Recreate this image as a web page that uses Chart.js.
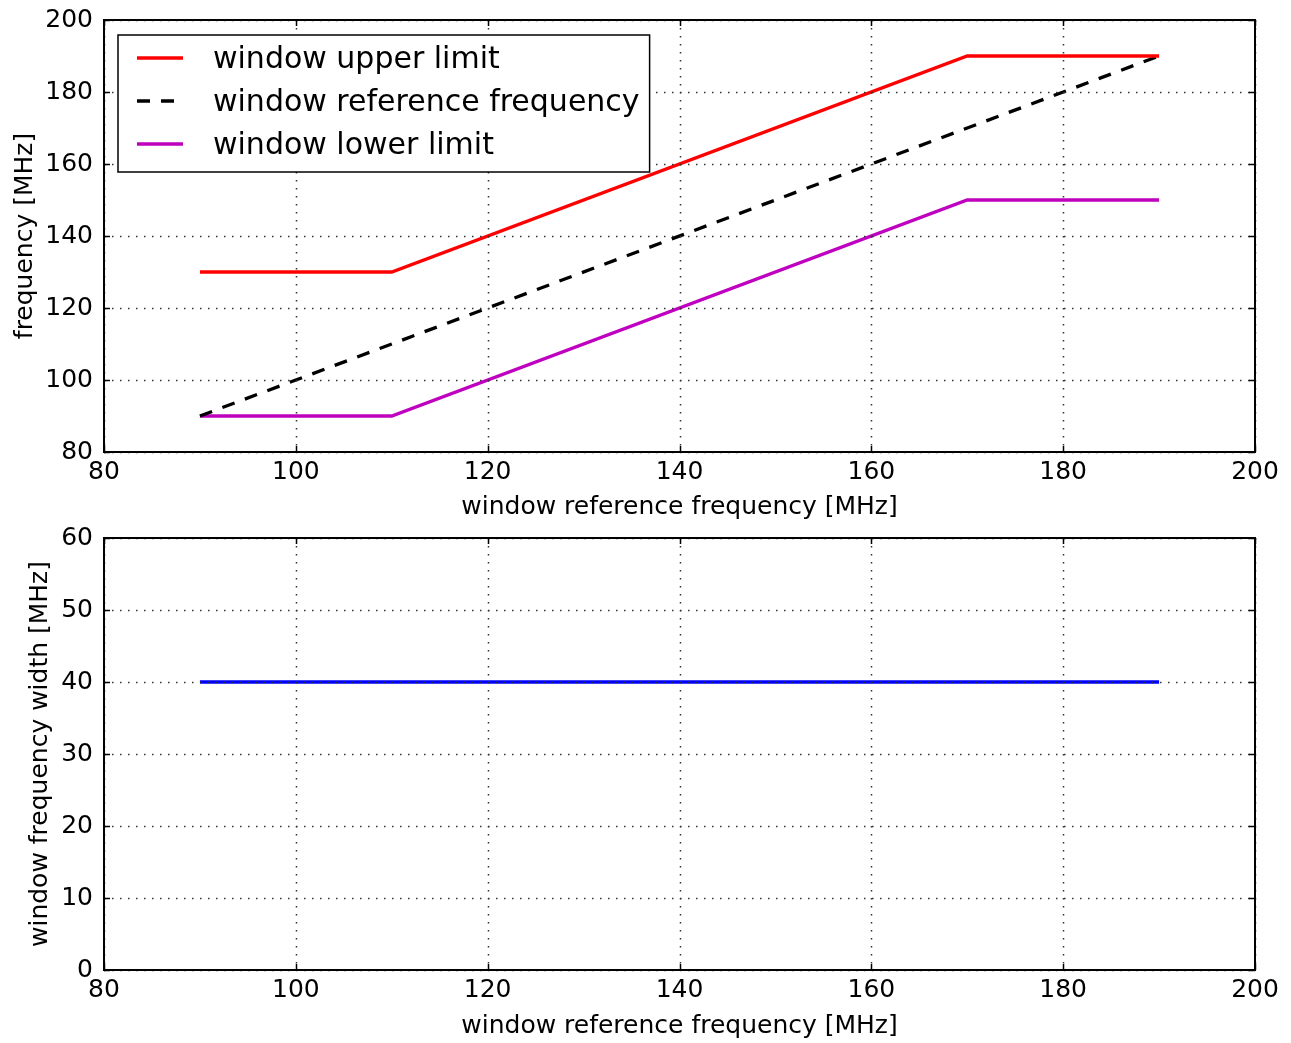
<!DOCTYPE html>
<html lang="en">
<head>
    <meta charset="UTF-8">
    <title>Window frequencies</title>
    <style>
        body {
            margin: 0;
            padding: 0;
            background: #ffffff;
        }

        .panel {
            position: absolute;
            left: 0;
        }

        #top { top: 0; }
        #bottom { top: 520px; }
    </style>
</head>
<body>
    <div class="panel" id="top"><canvas id="freqChart" width="1291" height="520"></canvas></div>
    <div class="panel" id="bottom"><canvas id="widthChart" width="1291" height="523"></canvas></div>

    <script src="https://cdn.jsdelivr.net/npm/chart.js"></script>
    <script>
        // values
        const refFreq = [90, 110, 170, 190];
        const upperLimit = [130, 130, 190, 190];
        const refLine = [90, 110, 170, 190];
        const lowerLimit = [90, 90, 150, 150];
        const freqWidth = [40, 40, 40, 40];

        const xTicks = [80, 100, 120, 140, 160, 180, 200];
        const yTicksTop = [80, 100, 120, 140, 160, 180, 200];
        const yTicksBottom = [0, 10, 20, 30, 40, 50, 60];

        const FONT = 'DejaVu Sans';
        const pts = ys => refFreq.map((x, i) => ({ x: x, y: ys[i] }));

        // matplotlib-like frame, dotted grid on top and inward ticks
        const framePlugin = {
            id: 'frame',
            afterDatasetsDraw(chart) {
                const { ctx, chartArea: a, scales } = chart;
                ctx.save();
                ctx.strokeStyle = '#333';
                ctx.lineWidth = 1.5;
                ctx.setLineDash([1.5, 6.5]);
                scales.x.ticks.forEach(t => {
                    const px = Math.round(scales.x.getPixelForValue(t.value)) + 0.5;
                    ctx.beginPath();
                    ctx.moveTo(px, a.top);
                    ctx.lineTo(px, a.bottom);
                    ctx.stroke();
                });
                scales.y.ticks.forEach(t => {
                    const py = Math.round(scales.y.getPixelForValue(t.value)) + 0.5;
                    ctx.beginPath();
                    ctx.moveTo(a.left, py);
                    ctx.lineTo(a.right, py);
                    ctx.stroke();
                });
                ctx.setLineDash([]);
                ctx.strokeStyle = '#000';
                ctx.lineWidth = 1.5;
                const tl = 6;
                scales.x.ticks.forEach(t => {
                    const px = Math.round(scales.x.getPixelForValue(t.value)) + 0.5;
                    ctx.beginPath();
                    ctx.moveTo(px, a.bottom); ctx.lineTo(px, a.bottom - tl);
                    ctx.moveTo(px, a.top); ctx.lineTo(px, a.top + tl);
                    ctx.stroke();
                });
                scales.y.ticks.forEach(t => {
                    const py = Math.round(scales.y.getPixelForValue(t.value)) + 0.5;
                    ctx.beginPath();
                    ctx.moveTo(a.left, py); ctx.lineTo(a.left + tl, py);
                    ctx.moveTo(a.right, py); ctx.lineTo(a.right - tl, py);
                    ctx.stroke();
                });
                ctx.lineWidth = 2;
                ctx.strokeRect(a.left, a.top, a.right - a.left, a.bottom - a.top);
                ctx.restore();
            }
        };

        // boxed legend in the upper left corner
        const boxLegend = {
            id: 'boxLegend',
            afterDraw(chart) {
                const { ctx, chartArea: a } = chart;
                const sets = chart.data.datasets;
                ctx.save();
                ctx.font = '30px "' + FONT + '"';
                const textW = Math.max(...sets.map(d => ctx.measureText(d.label).width));
                const left = a.left + 14, top = a.top + 15;
                const w = 95 + textW + 10, h = 137;
                ctx.fillStyle = '#fff';
                ctx.fillRect(left, top, w, h);
                ctx.strokeStyle = '#000';
                ctx.lineWidth = 1.5;
                ctx.strokeRect(left, top, w, h);
                sets.forEach((d, i) => {
                    const y = top + 23 + i * 43;
                    ctx.strokeStyle = d.borderColor;
                    ctx.lineWidth = d.borderWidth;
                    ctx.setLineDash(d.borderDash || []);
                    ctx.beginPath();
                    ctx.moveTo(left + 19, y);
                    ctx.lineTo(left + 65, y);
                    ctx.stroke();
                    ctx.setLineDash([]);
                    ctx.fillStyle = '#000';
                    ctx.textBaseline = 'middle';
                    ctx.fillText(d.label, left + 95, y + 2);
                });
                ctx.restore();
            }
        };

        function makeOptions(yTicks, yTitle, yTitlePad, xHeight, xTitlePad, padTop) {
            return {
                responsive: false,
                animation: false,
                devicePixelRatio: 1,
                layout: { padding: { top: padTop, right: 36, left: 0, bottom: 0 } },
                plugins: { legend: { display: false }, tooltip: { enabled: false } },
                scales: {
                    x: {
                        type: 'linear',
                        min: xTicks[0],
                        max: xTicks[xTicks.length - 1],
                        afterBuildTicks: s => { s.ticks = xTicks.map(v => ({ value: v })); },
                        afterFit: s => { s.height = xHeight; s.paddingLeft = 0; s.paddingRight = 0; },
                        grid: { display: false, drawTicks: false },
                        border: { display: false },
                        ticks: { color: '#000', padding: 5, maxRotation: 0, font: { family: FONT, size: 25 } },
                        title: {
                            display: true,
                            text: 'window reference frequency [MHz]',
                            color: '#000',
                            padding: { top: 0, bottom: xTitlePad },
                            font: { family: FONT, size: 25 }
                        }
                    },
                    y: {
                        min: yTicks[0],
                        max: yTicks[yTicks.length - 1],
                        afterBuildTicks: s => { s.ticks = yTicks.map(v => ({ value: v })); },
                        afterFit: s => { s.width = 104; s.paddingTop = 0; s.paddingBottom = 0; },
                        grid: { display: false, drawTicks: false },
                        border: { display: false },
                        ticks: { color: '#000', padding: 11, font: { family: FONT, size: 25 } },
                        title: {
                            display: true,
                            text: yTitle,
                            color: '#000',
                            padding: { top: yTitlePad, bottom: 0 },
                            font: { family: FONT, size: 25 }
                        }
                    }
                }
            };
        }

        new Chart(document.getElementById('freqChart'), {
            type: 'line',
            data: {
                datasets: [
                    { label: 'window upper limit', data: pts(upperLimit), borderColor: '#ff0000', borderWidth: 3.3, pointRadius: 0, tension: 0 },
                    { label: 'window reference frequency', data: pts(refLine), borderColor: '#000000', borderWidth: 3.3, borderDash: [13, 11], pointRadius: 0, tension: 0 },
                    { label: 'window lower limit', data: pts(lowerLimit), borderColor: '#bf00bf', borderWidth: 3.3, pointRadius: 0, tension: 0 }
                ]
            },
            options: makeOptions(yTicksTop, 'frequency [MHz]', 10, 68, -2, 20),
            plugins: [framePlugin, boxLegend]
        });

        new Chart(document.getElementById('widthChart'), {
            type: 'line',
            data: {
                datasets: [
                    { label: 'window frequency width', data: pts(freqWidth), borderColor: '#0000ff', borderWidth: 3.3, pointRadius: 0, tension: 0 }
                ]
            },
            options: makeOptions(yTicksBottom, 'window frequency width [MHz]', 25, 73, 2, 18),
            plugins: [framePlugin]
        });
    </script>
</body>
</html>
